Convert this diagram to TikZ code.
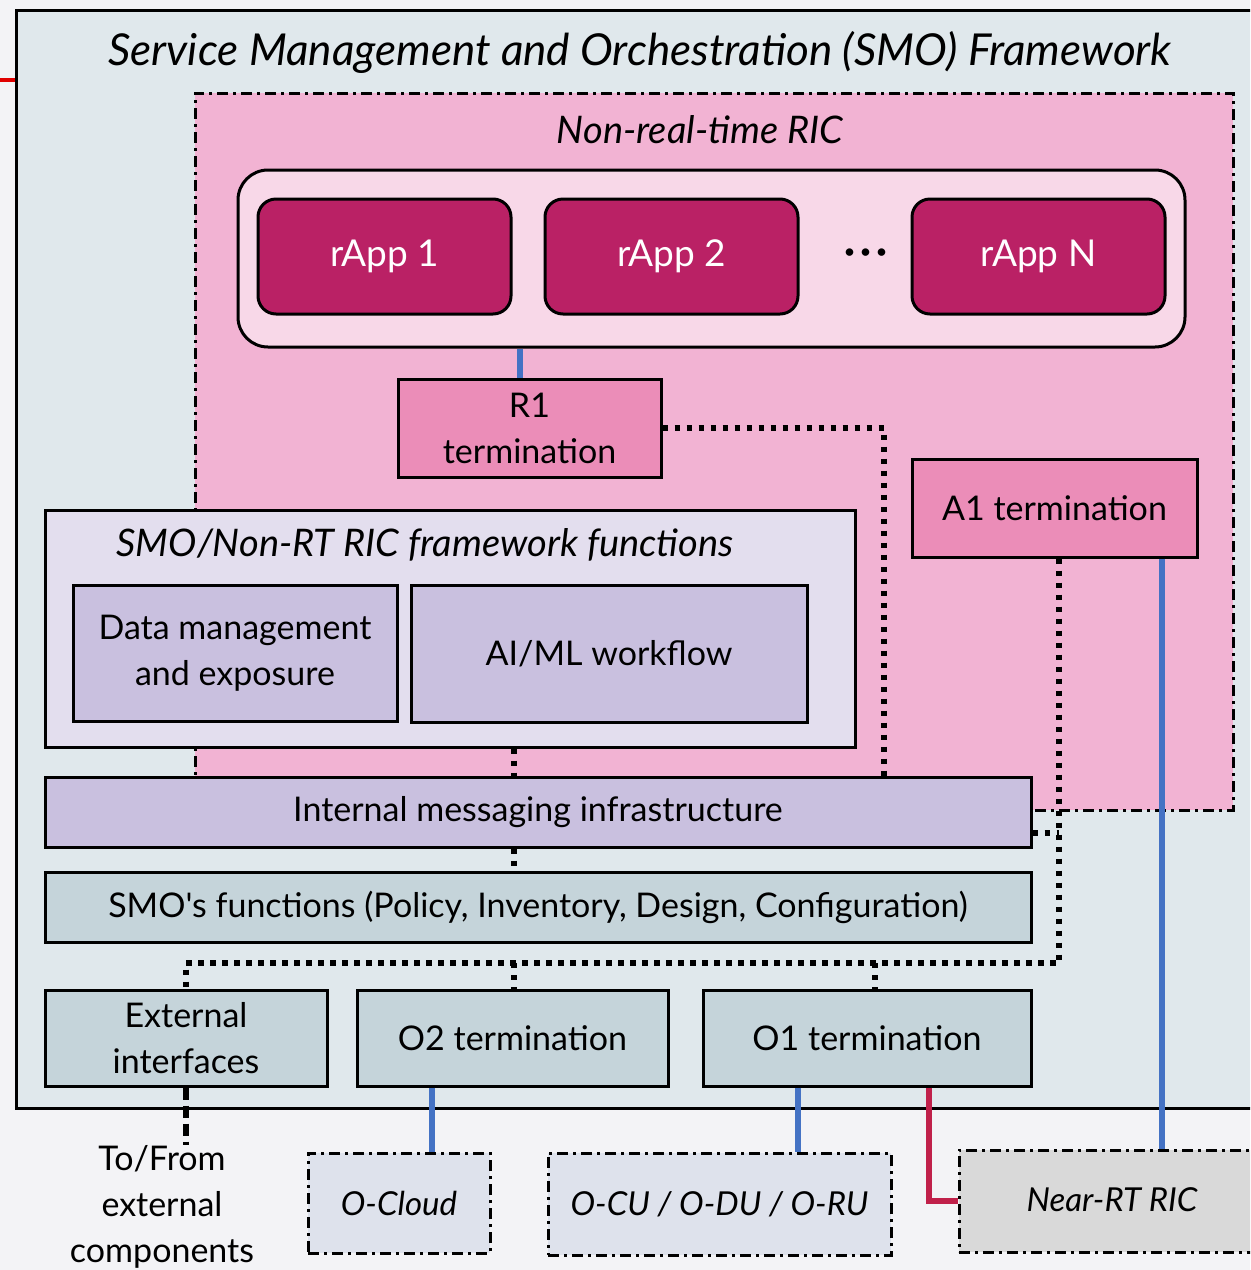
\documentclass[tikz,border=0pt]{standalone}
\usepackage{fontspec}
\setmainfont{Lato}[Ligatures=TeXOff]
\usetikzlibrary{calc}

\definecolor{pagebg}{HTML}{F3F3F6}
\definecolor{smofill}{HTML}{E0E8EC}
\definecolor{ricfill}{HTML}{F2B3D3}
\definecolor{appzone}{HTML}{F8D8E8}
\definecolor{appfill}{HTML}{BA2165}
\definecolor{termfill}{HTML}{EB8DB8}
\definecolor{fwfill}{HTML}{E3DEEE}
\definecolor{lavender}{HTML}{C9C0DF}
\definecolor{slate}{HTML}{C5D4DA}
\definecolor{extfill}{HTML}{DEE2EC}
\definecolor{nrtfill}{HTML}{D9D9D9}
\definecolor{linkblue}{HTML}{4472C4}
\definecolor{linkred}{HTML}{C0204A}
\definecolor{edgered}{HTML}{E00000}

\newcommand\lbl{\fontsize{17}{23}\selectfont}
\newcommand\ilbl{\fontsize{16.5}{23}\selectfont\itshape}
% box helper: name, style, x1, y1, x2, y2, text
\newcommand\bx[7]{\node[#2, minimum width={(#5-#3)*0.5pt}, minimum height={(#6-#4)*0.5pt}] (#1) at ({(#3+#5)/2},{(#4+#6)/2}) {#7};}

\tikzset{
  blk/.style={draw=black, line width=1.5pt, inner sep=0pt, align=center, font=\lbl},
  dashdot/.style={draw=black, line width=1.5pt, dash pattern=on 5.5pt off 2.5pt on 1.5pt off 2.5pt},
  dotlink/.style={draw=black, line width=2.8pt, dash pattern=on 2.6pt off 3.4pt},
  dashlink/.style={draw=black, line width=3pt, dash pattern=on 6pt off 3pt},
  bluelink/.style={draw=linkblue, line width=2.8pt},
  redlink/.style={draw=linkred, line width=3pt},
  heading/.style={font=\fontsize{22}{28}\selectfont\itshape, inner sep=0pt},
}

\begin{document}
\begin{tikzpicture}[x=0.5pt,y=-0.5pt]
\useasboundingbox (0,0) rectangle (1250,1270);
\clip (0,0) rectangle (1250,1270);
\fill[pagebg] (0,0) rectangle (1250,1270);

% SMO framework frame
\bx{smo}{blk, fill=smofill}{16}{10}{1290}{1108}{}
\coordinate (edge) at (0,80);
\draw[edgered, line width=2.2pt] (edge) -- (smo.west |- edge);
\node[heading] (smotitle) at (640,52) {Service Management and Orchestration (SMO) Framework};

% Non-real-time RIC region
\bx{nonrt}{blk, dashdot, fill=ricfill}{195}{93}{1233}{810}{}
\node[heading, font=\fontsize{19}{24}\selectfont\itshape] (nonrttitle) at (700,130) {Non-real-time RIC};

% rApp container and rApps
\bx{apps}{blk, fill=appzone, rounded corners=15pt}{238}{170}{1185}{347}{}
\bx{app1}{blk, fill=appfill, text=white, rounded corners=9pt, font=\fontsize{18.5}{23}\selectfont}{258}{199}{511}{314}{rApp 1}
\bx{app2}{blk, fill=appfill, text=white, rounded corners=9pt, font=\fontsize{18.5}{23}\selectfont}{545}{199}{798}{314}{rApp 2}
\bx{appn}{blk, fill=appfill, text=white, rounded corners=9pt, font=\fontsize{18.5}{23}\selectfont}{912}{199}{1165}{314}{rApp N}
\node[inner sep=0pt, font=\fontsize{20}{24}\selectfont\bfseries] (dots) at (866,257) {·\hspace{2.5pt}·\hspace{2.5pt}·};

% terminations inside the RIC
\bx{r1}{blk, fill=termfill}{398}{379}{661}{477}{R1\\termination}
\bx{a1}{blk, fill=termfill}{912}{459}{1197}{557}{A1 termination}

% framework functions
\bx{fw}{blk, fill=fwfill}{45}{510}{855}{747}{}
\node[heading, font=\fontsize{19}{23}\selectfont\itshape] (fwtitle) at (425,545) {SMO/Non-RT RIC framework functions};
\bx{dme}{blk, fill=lavender}{73}{585}{397}{721}{Data management\\and exposure}
\bx{aiml}{blk, fill=lavender}{411}{585}{807}{722}{AI/ML workflow}

% messaging and SMO functions
\bx{msg}{blk, fill=lavender}{45}{777}{1031}{847}{Internal messaging infrastructure}
\bx{smofn}{blk, fill=slate}{45}{872}{1031}{942}{SMO's functions (Policy, Inventory, Design, Configuration)}

% SMO terminations
\bx{ext}{blk, fill=slate}{45}{990}{327}{1086}{External\\interfaces}
\bx{o2}{blk, fill=slate}{357}{990}{668}{1086}{O2 termination}
\bx{o1}{blk, fill=slate}{703}{990}{1031}{1086}{O1 termination}

% external entities
\bx{ocloud}{blk, dashdot, fill=extfill, font=\ilbl}{308}{1153}{490}{1253}{O-Cloud}
\bx{ocu}{blk, dashdot, fill=extfill, font=\ilbl}{548}{1153}{891}{1255}{O-CU / O-DU / O-RU}
\bx{nrt}{blk, dashdot, fill=nrtfill, font=\ilbl}{959}{1150}{1265}{1252}{}
\node[font=\ilbl, inner sep=0pt] (nrtlabel) at (1112,1200) {Near-RT RIC};
\node[font=\lbl, align=center, inner sep=0pt] (tofrom) at (162,1207) {To/From\\external\\components};

% reference columns for the connectors
\coordinate (xr1) at (520,0);
\coordinate (xbus) at (514,0);
\coordinate (xr1bus) at (884,0);
\coordinate (xa1) at (1059,0);
\coordinate (xa1b) at (1162,0);
\coordinate (xo1) at (875,0);
\coordinate (xo1b) at (798,0);
\coordinate (xo1r) at (929,0);
\coordinate (xo2) at (432,0);
\coordinate (ybus) at (0,963);
\coordinate (ymsg) at (0,833);

% dotted internal links
\draw[dotlink] (r1.east) -| (msg.north -| xr1bus);
\draw[dotlink] (fw.south -| xbus) -- (msg.north -| xbus);
\draw[dotlink] (msg.south -| xbus) -- (smofn.north -| xbus);
\draw[dotlink] (a1.south -| xa1) -- (xa1 |- ybus) -- (ext.north |- ybus) -- (ext.north);
\draw[dotlink] (msg.east |- ymsg) -- (xa1 |- ymsg);
\draw[dotlink] (xbus |- ybus) -- (o2.north -| xbus);
\draw[dotlink] (xo1 |- ybus) -- (o1.north -| xo1);

% interface links
\draw[bluelink] (apps.south -| xr1) -- (r1.north -| xr1);
\draw[bluelink] (a1.south -| xa1b) -- (nrt.north -| xa1b);
\draw[bluelink] (o2.south -| xo2) -- (ocloud.north -| xo2);
\draw[bluelink] (o1.south -| xo1b) -- (ocu.north -| xo1b);
\draw[redlink] (o1.south -| xo1r) |- (nrt.west);
\draw[dashlink] (ext.south) -- (ext.south |- tofrom.north);
\end{tikzpicture}
\end{document}
